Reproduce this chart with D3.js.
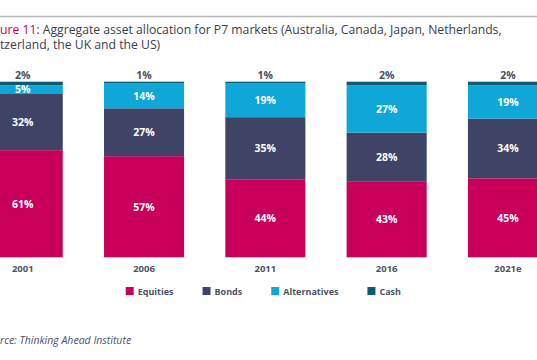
<!DOCTYPE html>
<html>
<head>
<meta charset="utf-8">
<script src="https://cdn.jsdelivr.net/npm/d3@7"></script>
<style>
  html, body { margin: 0; padding: 0; background: #ffffff; }
  svg { display: block; font-family: "Open Sans", "Noto Sans", sans-serif; }
</style>
</head>
<body>
<svg id="chart" width="537" height="360"></svg>
<script>
// ---- data ----
const years = ["2001", "2006", "2011", "2016", "2021e"];
const equities = [61, 57, 44, 43, 45];
const bonds = [32, 27, 35, 28, 34];
const alternatives = [5, 14, 19, 27, 19];
const cash = [2, 1, 1, 2, 2];
const seriesNames = ["Equities", "Bonds", "Alternatives", "Cash"];
const titlePrefix = "Figure 11:";
const titleLine1 = " Aggregate asset allocation for P7 markets (Australia, Canada, Japan, Netherlands,";
const titleLine2 = "Switzerland, the UK and the US)";
const sourceText = "Source: Thinking Ahead Institute";

// ---- setup ----
const W = 537, H = 360;
const svg = d3.select("#chart");
const colors = d3.scaleOrdinal()
  .domain(seriesNames)
  .range(["#c8005c", "#3f4365", "#0fa7d7", "#0c5b73"]);

const rows = years.map((y, i) => ({
  year: y,
  Equities: equities[i],
  Bonds: bonds[i],
  Alternatives: alternatives[i],
  Cash: cash[i]
}));

const stack = d3.stack().keys(seriesNames).offset(d3.stackOffsetExpand);
const stacked = stack(rows);

const x = d3.scaleBand()
  .domain(years)
  .range([-37.9, 568.6])
  .paddingInner(0.34)
  .paddingOuter(0.17);
const y = d3.scaleLinear().domain([0, 1]).range([257.3, 81.7]);

// ---- top rule ----
svg.append("line")
  .attr("x1", 0).attr("x2", W)
  .attr("y1", 16.5).attr("y2", 16.5)
  .attr("stroke", "#b9b9b9").attr("stroke-width", 1.5);

// ---- title (cropped on the left like the reference) ----
const titleSize = 12.2;
const measure = svg.append("text").attr("font-size", titleSize).text("Fig");
const figW = measure.node().getComputedTextLength();
measure.text("Swi");
const swiW = measure.node().getComputedTextLength();
measure.remove();

const t1 = svg.append("text")
  .attr("x", -figW).attr("y", 33.5)
  .attr("font-size", titleSize).attr("fill", "#3b3d4c");
t1.append("tspan").attr("fill", "#c8005c").text(titlePrefix);
t1.append("tspan").text(titleLine1);
svg.append("text")
  .attr("x", -swiW).attr("y", 48.5)
  .attr("font-size", titleSize).attr("fill", "#3b3d4c")
  .text(titleLine2);

// ---- bars ----
const layer = svg.append("g").selectAll("g")
  .data(stacked)
  .join("g")
  .attr("fill", d => colors(d.key));

layer.selectAll("rect")
  .data(d => d.map(v => ({ key: d.key, v })))
  .join("rect")
  .attr("x", d => x(d.v.data.year))
  .attr("width", x.bandwidth())
  .attr("y", d => y(d.v[1]))
  .attr("height", d => y(d.v[0]) - y(d.v[1]));

// ---- segment labels ----
const inner = stacked.filter(s => s.key !== "Cash");
svg.append("g").selectAll("g")
  .data(inner)
  .join("g")
  .selectAll("text")
  .data(d => d.map(v => ({ key: d.key, v })))
  .join("text")
  .attr("x", d => x(d.v.data.year) + x.bandwidth() / 2)
  .attr("y", d => (y(d.v[0]) + y(d.v[1])) / 2)
  .attr("dy", "0.36em")
  .attr("text-anchor", "middle")
  .attr("font-size", 10.5)
  .attr("font-weight", 700)
  .attr("fill", "#ffffff")
  .text(d => d.v.data[d.key] + "%");

// cash labels above bars
const cashLayer = stacked.find(s => s.key === "Cash");
svg.append("g").selectAll("text")
  .data(cashLayer)
  .join("text")
  .attr("x", d => x(d.data.year) + x.bandwidth() / 2)
  .attr("y", d => y(d[1]) - 3)
  .attr("text-anchor", "middle")
  .attr("font-size", 10.5)
  .attr("font-weight", 700)
  .attr("fill", "#4a4d5e")
  .text(d => d.data.Cash + "%");

// ---- x axis ----
const xAxis = svg.append("g")
  .attr("transform", `translate(0,${y(0)})`)
  .call(d3.axisBottom(x).tickSize(0).tickPadding(8));
xAxis.select(".domain").remove();
xAxis.selectAll("text")
  .attr("font-family", "'Open Sans', sans-serif")
  .attr("font-size", 9.5)
  .attr("font-weight", 700)
  .attr("fill", "#4e5164");

// ---- legend ----
const legend = svg.append("g").attr("transform", "translate(125.7,287)");
let lx = 0;
seriesNames.forEach(name => {
  const g = legend.append("g").attr("transform", `translate(${lx},0)`);
  g.append("rect").attr("width", 8).attr("height", 8).attr("fill", colors(name));
  const t = g.append("text")
    .attr("x", 12).attr("y", 7.5)
    .attr("font-size", 9).attr("font-weight", 700)
    .attr("fill", "#4e5164")
    .text(name);
  lx += 12 + t.node().getComputedTextLength() + 29;
});

// ---- source ----
const srcSize = 10.5;
const ms = svg.append("text").attr("font-size", srcSize).attr("font-style", "italic").text("Sou");
const souW = ms.node().getComputedTextLength();
ms.remove();
svg.append("text")
  .attr("x", -souW).attr("y", 343.5)
  .attr("font-size", srcSize).attr("font-style", "italic")
  .attr("fill", "#4e5164")
  .text(sourceText);
</script>
</body>
</html>
